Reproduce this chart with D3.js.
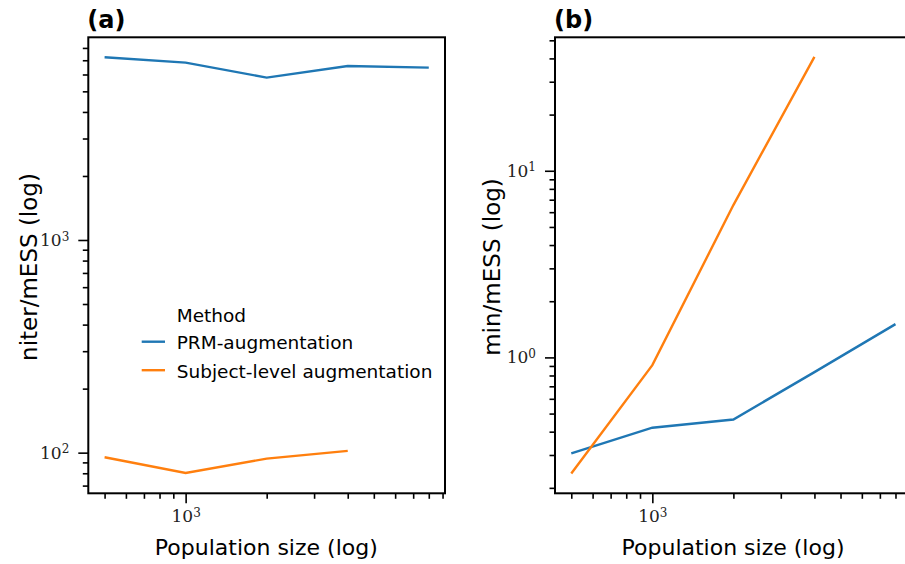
<!DOCTYPE html>
<html>
<head>
<meta charset="utf-8">
<script src="https://cdn.jsdelivr.net/npm/d3@7"></script>
<style>
  body { margin: 0; background: #fff; }
  svg { display: block; }
  .lab { font-family: "DejaVu Sans", sans-serif; fill: #000; }
  .tick-lab { font-family: "DejaVu Serif", serif; font-size: 17px; fill: #222; }
</style>
</head>
<body>
<div class="container"></div>
<script>
(function() {
  // Data
  var popSizes = [500, 1000, 2000, 4000, 8000];
  var methods = ['PRM-augmentation', 'Subject-level augmentation'];
  var colors = ['#1f77b4', '#ff7f0e'];

  // panel (a): niter / mESS
  var prmNiter = [7230, 6820, 5800, 6580, 6460];
  var subjNiter = [95.1, 80.3, 93.7, 101.9];
  // panel (b): min / mESS
  var prmMin = [0.306, 0.420, 0.465, 0.834, 1.508];
  var subjMin = [0.239, 0.909, 6.55, 40.8];

  var xTickMajor = [1000];
  var yTicksA = [100, 1000];
  var yTicksB = [1, 10];

  var width = 905, height = 564;
  var svg = d3.select('div.container').append('svg')
    .attr('width', width).attr('height', height);

  // write 10^e as "10" + raised exponent
  var powLabel = function(sel) {
    sel.each(function(v) {
      var t = d3.select(this).text('');
      var e = Math.round(Math.log10(v));
      t.append('tspan').text('10');
      t.append('tspan').attr('dy', '-0.45em').attr('font-size', '12px').text(e);
    });
  };

  // minor ticks for a log scale
  var minorTicks = function(domain) {
    var out = [];
    var lo = Math.floor(Math.log10(domain[0])), hi = Math.ceil(Math.log10(domain[1]));
    for (var e = lo; e <= hi; e++) {
      for (var m = 2; m <= 9; m++) {
        var v = m * Math.pow(10, e);
        if (v >= domain[0] && v <= domain[1]) out.push(v);
      }
    }
    return out;
  };

  var drawPanel = function(opts) {
    var g = svg.append('g');
    var x = d3.scaleLog().domain([435, 9190]).range([opts.left, opts.left + 356.7]);
    var y = d3.scaleLog().domain(opts.yDomain).range([493.3, 37.3]);

    var xAxis = d3.axisBottom(x).tickValues(xTickMajor).tickSize(10).tickPadding(7);
    var xMinor = d3.axisBottom(x).tickValues(minorTicks(x.domain()).filter(function(v) { return v !== 1000; }))
      .tickFormat('').tickSize(5.5);
    var yAxis = d3.axisLeft(y).tickValues(opts.yTicks).tickSize(10).tickPadding(9);
    var yMinor = d3.axisLeft(y).tickValues(minorTicks(y.domain()).filter(function(v) { return opts.yTicks.indexOf(v) < 0; }))
      .tickFormat('').tickSize(5.5);

    var line = d3.line().x(function(d) { return x(d[0]); }).y(function(d) { return y(d[1]); });

    opts.series.forEach(function(vals, i) {
      g.append('path')
        .datum(vals.map(function(v, j) { return [popSizes[j], v]; }))
        .attr('d', line)
        .attr('fill', 'none')
        .attr('stroke', colors[i])
        .attr('stroke-width', 2.4);
    });

    // frame
    g.append('rect')
      .attr('x', opts.left).attr('y', 37.3)
      .attr('width', 356.7).attr('height', 456)
      .attr('fill', 'none').attr('stroke', '#000').attr('stroke-width', 2);

    [[xAxis, 'bottom', true], [xMinor, 'bottom'], [yAxis, 'left', true], [yMinor, 'left']].forEach(function(a) {
      var ag = g.append('g')
        .attr('transform', a[1] === 'bottom' ? 'translate(0,493.3)' : 'translate(' + opts.left + ',0)')
        .call(a[0]);
      ag.select('.domain').remove();
      ag.selectAll('.tick line').attr('stroke', '#000').attr('stroke-width', 1.6);
      var tt = ag.selectAll('.tick text').attr('class', 'tick-lab').attr('fill', '#222');
      if (a[2]) tt.call(powLabel);
    });

    g.append('text').attr('class', 'lab')
      .attr('x', opts.left + 178).attr('y', 555)
      .attr('text-anchor', 'middle').attr('font-size', 22)
      .text('Population size (log)');

    g.append('text').attr('class', 'lab')
      .attr('transform', 'translate(' + opts.yLabelX + ',267) rotate(-90)')
      .attr('text-anchor', 'middle').attr('font-size', 23)
      .text(opts.yLabel);

    g.append('text').attr('class', 'lab')
      .attr('x', opts.left - 1).attr('y', 28)
      .attr('font-size', 24).attr('font-weight', 'bold')
      .text(opts.title);
  };

  drawPanel({
    left: 88.3, yDomain: [64.4, 8975], yTicks: yTicksA,
    series: [prmNiter, subjNiter], yLabel: 'niter/mESS (log)', yLabelX: 37, title: '(a)'
  });
  drawPanel({
    left: 555, yDomain: [0.187, 51.9], yTicks: yTicksB,
    series: [prmMin, subjMin], yLabel: 'min/mESS (log)', yLabelX: 500, title: '(b)'
  });

  // legend in panel (a)
  var leg = svg.append('g');
  leg.append('text').attr('class', 'lab').attr('x', 176.7).attr('y', 321.7)
    .attr('font-size', 18.5).text('Method');
  methods.forEach(function(m, i) {
    var yy = 341.7 + i * 28.5;
    leg.append('line').attr('x1', 141.7).attr('x2', 165).attr('y1', yy).attr('y2', yy)
      .attr('stroke', colors[i]).attr('stroke-width', 2.4);
    leg.append('text').attr('class', 'lab').attr('x', 176.7).attr('y', yy + 7.5)
      .attr('font-size', 18.5).text(m);
  });
})();
</script>
</body>
</html>
